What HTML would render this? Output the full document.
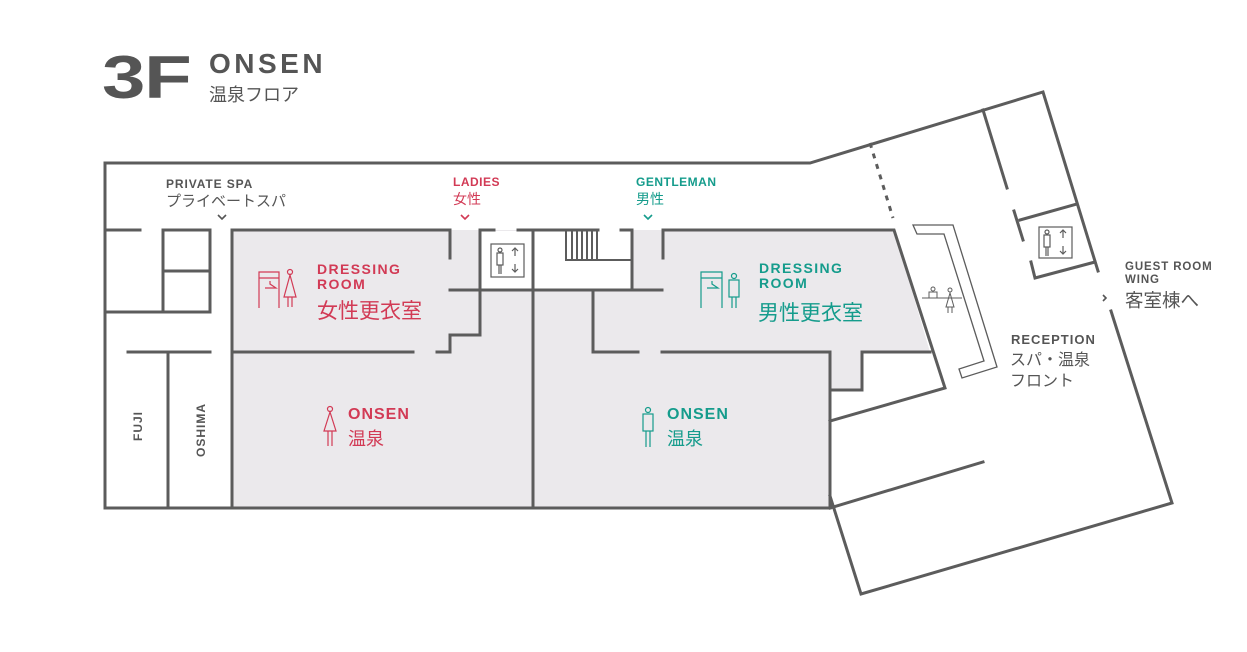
<!DOCTYPE html>
<html><head><meta charset="utf-8"><style>
html,body{margin:0;padding:0;background:#fff;}
svg{display:block;}
text{font-family:"Liberation Sans","Noto Sans CJK JP",sans-serif;}
</style></head><body>
<svg width="1247" height="652" viewBox="0 0 1247 652" xmlns="http://www.w3.org/2000/svg">
<g fill="#ebe9ec">
<rect x="232" y="230" width="301" height="278"/>
<rect x="533" y="290" width="297" height="218"/>
<polygon points="632,230 894,230 930,352 862,352 862,390 830,390 830,352 593,352 593,290 632,290"/>
</g>
<rect x="481" y="231" width="51" height="58" fill="#fff"/>
<rect x="534" y="231" width="97" height="58" fill="#fff"/>
<g stroke="#5c5c5c" stroke-width="3" fill="none" stroke-linecap="square">
<polyline points="105,230 105,163 810,163 1043,92 1098,271"/>
<polyline points="1111,311 1172,503 861,594 830,496"/>
<line x1="105" y1="230" x2="105" y2="508"/>
<line x1="105" y1="508" x2="830" y2="508"/>
<line x1="105" y1="230" x2="140" y2="230"/>
<polyline points="163,312 163,230 210,230 210,312"/>
<line x1="163" y1="271" x2="210" y2="271"/>
<line x1="105" y1="312" x2="210" y2="312"/>
<line x1="128" y1="352" x2="210" y2="352"/>
<line x1="168" y1="352" x2="168" y2="508"/>
<line x1="232" y1="230" x2="232" y2="508"/>
<line x1="232" y1="230" x2="450" y2="230"/>
<line x1="450" y1="230" x2="450" y2="258"/>
<line x1="450" y1="290" x2="533" y2="290"/>
<polyline points="480,230 480,335 450,335 450,352 437,352"/>
<line x1="232" y1="352" x2="413" y2="352"/>
<line x1="480" y1="230" x2="494" y2="230"/>
<line x1="518" y1="230" x2="598" y2="230"/>
<line x1="533" y1="230" x2="533" y2="508"/>
<line x1="533" y1="290" x2="662" y2="290"/>
<polyline points="621,230 632,230 632,290"/>
<polyline points="663,258 663,230 894,230 945,388 830,421"/>
<polyline points="593,290 593,352 638,352"/>
<polyline points="662,352 830,352 830,508"/>
<polyline points="830,390 862,390 862,352 930,352"/>
<line x1="983" y1="462" x2="830" y2="508"/>
<line x1="983" y1="110" x2="1007" y2="188"/>
<line x1="1014" y1="211" x2="1023" y2="240"/>
<line x1="1020" y1="220" x2="1077" y2="204"/>
<polyline points="1031,262 1035,278 1095,262"/>
</g>
<g stroke="#5c5c5c" stroke-width="2" fill="none">
<polyline points="566,230 566,260 632,260"/>
<line x1="572" y1="230" x2="572" y2="260"/><line x1="577" y1="230" x2="577" y2="260"/>
<line x1="582" y1="230" x2="582" y2="260"/><line x1="587" y1="230" x2="587" y2="260"/>
<line x1="592" y1="230" x2="592" y2="260"/><line x1="597" y1="230" x2="597" y2="260"/>
</g>
<line x1="870" y1="143" x2="893" y2="218" stroke="#5c5c5c" stroke-width="3" stroke-dasharray="5,6"/>
<polygon points="913,225 953,225 997,367 962,378 959,369 984,361 944,234 917,234" fill="none" stroke="#5c5c5c" stroke-width="1.3"/>
<g stroke="#5c5c5c" stroke-width="1" fill="none">
<line x1="922" y1="298" x2="962" y2="298"/>
<rect x="929" y="292" width="8" height="6"/><circle cx="933" cy="289" r="2"/>
<circle cx="950" cy="290" r="2"/><polygon points="950,293 946,307 954,307"/><line x1="948" y1="307" x2="948" y2="313"/><line x1="952" y1="307" x2="952" y2="313"/>
</g>
<g stroke="#5c5c5c" stroke-width="1.2" fill="none">
<rect x="491" y="244" width="33" height="33"/>
<circle cx="500" cy="250" r="2"/><rect x="497" y="253" width="6" height="12"/><line x1="499" y1="265" x2="499" y2="274"/><line x1="501" y1="265" x2="501" y2="274"/>
<path d="M515,256 V248 M512,251 L515,248 L518,251 M515,264 V272 M512,269 L515,272 L518,269"/>
<rect x="1039" y="227" width="33" height="31"/>
<circle cx="1047" cy="232" r="2"/><rect x="1044" y="235" width="6" height="12"/><line x1="1046" y1="247" x2="1046" y2="256"/><line x1="1048" y1="247" x2="1048" y2="256"/>
<path d="M1063,238 V230 M1060,233 L1063,230 L1066,233 M1063,246 V254 M1060,251 L1063,254 L1066,251"/>
</g>
<g fill="none" stroke-width="1.6">
<polyline points="218,215 222,219 226,215" stroke="#555"/>
<polyline points="461,215 465,219 469,215" stroke="#d23a55"/>
<polyline points="644,215 648,219 652,215" stroke="#159c8c"/>
<polyline points="1103,295 1106,298 1103,301" stroke="#555"/>
</g>
<g stroke="#d23a55" stroke-width="1.2" fill="none">
<path d="M259,308 V272 H279 V308 M259,278 H279 M265,288 H276 L270,284 V281"/>
<circle cx="290" cy="272" r="2.5"/><polygon points="290,275 284,297 296,297"/><path d="M288,297 V307 M292,297 V307"/>
<circle cx="330" cy="409" r="2.5"/><polygon points="330,412 324,431 336,431"/><path d="M328,431 V446 M332,431 V446"/>
</g>
<g stroke="#159c8c" stroke-width="1.2" fill="none">
<path d="M701,308 V272 H722 V308 M701,278 H722 M707,288 H718 L712,284 V281"/>
<circle cx="734" cy="276" r="2.5"/><rect x="729" y="280" width="10" height="17"/><path d="M732,297 V308 M736,297 V308"/>
<circle cx="648" cy="410" r="2.5"/><rect x="643" y="414" width="10" height="17"/><path d="M646,431 V447 M650,431 V447"/>
</g>
<text transform="translate(102,98) scale(1.3,1)" font-size="60" font-weight="bold" fill="#555" letter-spacing="-1">3F</text>
<text x="209" y="73" font-size="28" fill="#555" font-weight="bold" letter-spacing="3.5">ONSEN</text>
<text x="209" y="101" font-size="18" fill="#555">温泉フロア</text>
<text x="166" y="188" font-size="12" fill="#555" font-weight="bold" letter-spacing="0.9">PRIVATE SPA</text>
<text x="166" y="206" font-size="15" fill="#555">プライベートスパ</text>
<text x="453" y="186" font-size="12" fill="#d23a55" font-weight="bold" letter-spacing="0.5">LADIES</text>
<text x="453" y="204" font-size="14" fill="#d23a55">女性</text>
<text x="636" y="186" font-size="12" fill="#159c8c" font-weight="bold" letter-spacing="0.5">GENTLEMAN</text>
<text x="636" y="204" font-size="14" fill="#159c8c">男性</text>
<text x="317" y="274" font-size="14" fill="#d23a55" font-weight="bold" letter-spacing="1.4">DRESSING</text>
<text x="317" y="289" font-size="14" fill="#d23a55" font-weight="bold" letter-spacing="1.4">ROOM</text>
<text x="317" y="318" font-size="21" fill="#d23a55">女性更衣室</text>
<text x="759" y="273" font-size="14" fill="#159c8c" font-weight="bold" letter-spacing="1.4">DRESSING</text>
<text x="759" y="288" font-size="14" fill="#159c8c" font-weight="bold" letter-spacing="1.4">ROOM</text>
<text x="758" y="320" font-size="21" fill="#159c8c">男性更衣室</text>
<text x="348" y="419" font-size="16" fill="#d23a55" font-weight="bold" letter-spacing="1">ONSEN</text>
<text x="348" y="445" font-size="18" fill="#d23a55">温泉</text>
<text x="667" y="419" font-size="16" fill="#159c8c" font-weight="bold" letter-spacing="1">ONSEN</text>
<text x="667" y="445" font-size="18" fill="#159c8c">温泉</text>
<text transform="translate(142,426) rotate(-90)" text-anchor="middle" font-size="12" fill="#555" font-weight="bold" letter-spacing="1">FUJI</text>
<text transform="translate(205,430) rotate(-90)" text-anchor="middle" font-size="12" fill="#555" font-weight="bold" letter-spacing="1">OSHIMA</text>
<text x="1011" y="344" font-size="13" fill="#555" font-weight="bold" letter-spacing="1">RECEPTION</text>
<text x="1010" y="365" font-size="16" fill="#555">スパ・温泉</text>
<text x="1010" y="386" font-size="16" fill="#555">フロント</text>
<text x="1125" y="270" font-size="11.5" fill="#555" font-weight="bold" letter-spacing="0.9">GUEST ROOM</text>
<text x="1125" y="283" font-size="11.5" fill="#555" font-weight="bold" letter-spacing="0.9">WING</text>
<text x="1125" y="307" font-size="18.5" fill="#555">客室棟へ</text>
</svg>
</body></html>
